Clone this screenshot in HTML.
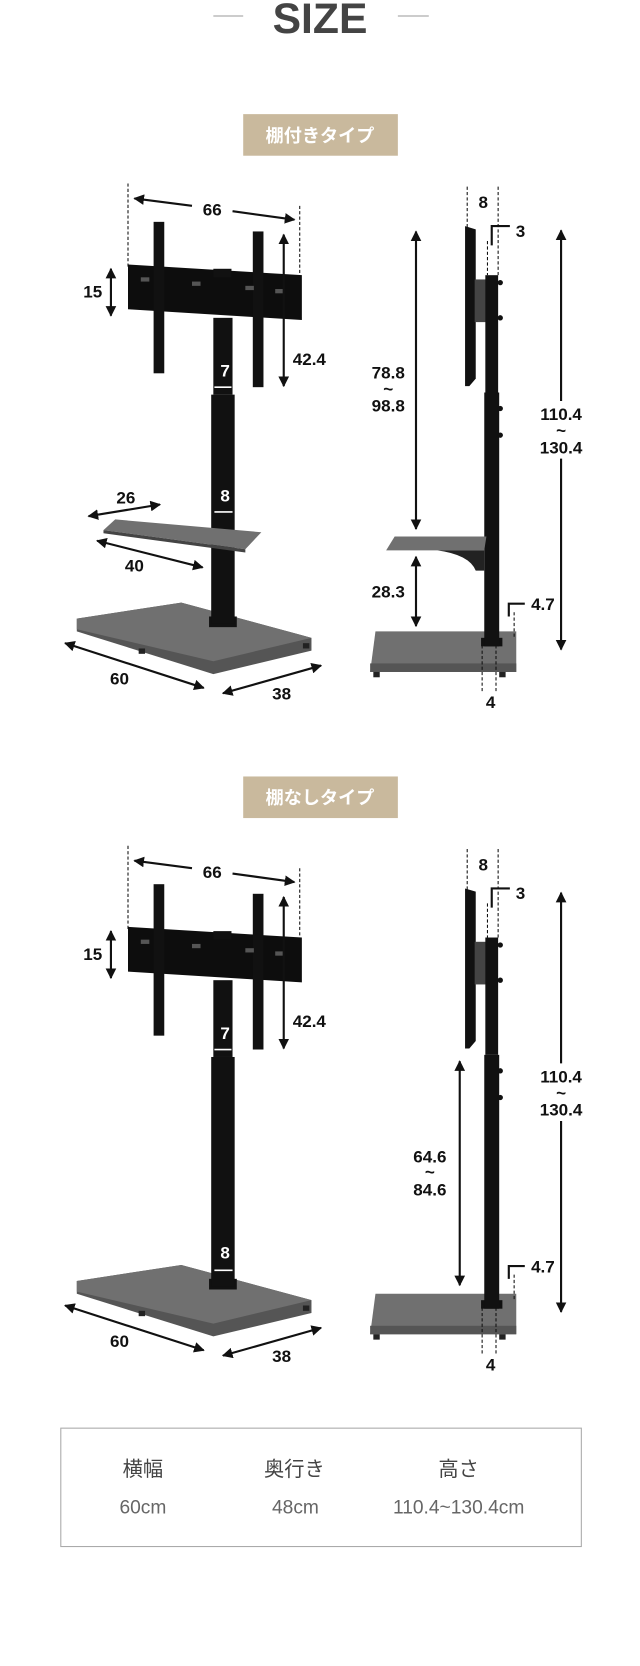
<!DOCTYPE html>
<html><head><meta charset="utf-8"><style>
html,body{margin:0;padding:0;background:#fff;}
svg{display:block;}
text{font-family:"Liberation Sans","Noto Sans CJK JP",sans-serif;}
.d{font-weight:bold;font-size:16px;fill:#111;text-anchor:middle;}
.ln{stroke:#111;stroke-width:2;fill:none;}
.ds{stroke:#111;stroke-width:1;stroke-dasharray:3,2;fill:none;}
</style></head><body>
<svg width="640" height="1666" viewBox="0 0 600 1562" preserveAspectRatio="none" xmlns="http://www.w3.org/2000/svg">
<defs>
<marker id="a" viewBox="0 0 10 10" refX="9" refY="5" markerWidth="5" markerHeight="5" orient="auto-start-reverse"><path d="M0,0 L10,5 L0,10z" fill="#111"/></marker>
<g id="top">
 <line class="ds" x1="120" y1="172" x2="120" y2="250"/>
 <line class="ds" x1="281" y1="193" x2="281" y2="262"/>
 <line class="ln" x1="126" y1="186" x2="180" y2="193" marker-start="url(#a)"/>
 <line class="ln" x1="218" y1="198" x2="276" y2="206" marker-end="url(#a)"/>
 <text class="d" x="199" y="202">66</text>
 <polygon points="120,248 283,258 283,300 120,290" fill="#0d0d0d"/>
 <rect x="144" y="208" width="10" height="142" fill="#111"/>
 <rect x="237" y="217" width="10" height="146" fill="#111"/>
 <rect x="200" y="252" width="17" height="8" fill="#111"/>
 <rect x="132" y="260" width="8" height="4" fill="#555"/><rect x="180" y="264" width="8" height="4" fill="#555"/><rect x="230" y="268" width="8" height="4" fill="#555"/><rect x="258" y="271" width="8" height="4" fill="#555"/>
 <line class="ln" x1="104" y1="252" x2="104" y2="296" marker-start="url(#a)" marker-end="url(#a)"/>
 <text class="d" x="87" y="279">15</text>
 <line class="ln" x1="266" y1="220" x2="266" y2="362" marker-start="url(#a)" marker-end="url(#a)"/>
 <text class="d" x="290" y="342">42.4</text>
 <rect x="200" y="298" width="18" height="72" fill="#111"/>
 <text class="d" x="211" y="353" fill="#fff" style="fill:#fff">7</text>
 <line x1="201" y1="363" x2="217" y2="363" stroke="#fff" stroke-width="1.5"/>
 <line class="ds" x1="438" y1="175" x2="438" y2="215"/>
 <line class="ds" x1="467" y1="175" x2="467" y2="260"/>
 <text class="d" x="453" y="195">8</text>
 <path d="M461,230 V212 H478" class="ln"/>
 <text class="d" x="488" y="222">3</text>
 <line class="ds" x1="457" y1="226" x2="457" y2="258"/>
 <path d="M436,212 L446,215 L446,355 L440,362 L436,362z" fill="#111"/>
 <rect x="445" y="262" width="12" height="40" fill="#444"/>
 <rect x="455" y="258" width="12" height="110" fill="#111"/>
 <circle cx="469" cy="265" r="2.5" fill="#111"/><circle cx="469" cy="298" r="2.5" fill="#111"/>
 <text class="d" x="526" y="394">110.4</text>
</g>
<g id="base">
 <polygon points="72,580 170,565 292,598 292,610 200,632 72,592" fill="#555"/>
 <polygon points="72,580 170,565 292,598 200,620 72,590" fill="#707070"/>
 <rect x="130" y="608" width="6" height="5" fill="#222"/><rect x="284" y="603" width="6" height="5" fill="#222"/>
 <rect x="196" y="578" width="26" height="10" fill="#111"/>
 <line class="ln" x1="61" y1="603" x2="191" y2="645" marker-start="url(#a)" marker-end="url(#a)"/>
 <text class="d" x="112" y="642">60</text>
 <line class="ln" x1="209" y1="650" x2="301" y2="624" marker-start="url(#a)" marker-end="url(#a)"/>
 <text class="d" x="264" y="656">38</text>
 <polygon points="352,592 484,592 484,630 347,630" fill="#707070"/>
 <rect x="347" y="622" width="137" height="8" fill="#555"/>
 <rect x="350" y="630" width="6" height="5" fill="#222"/><rect x="468" y="630" width="6" height="5" fill="#222"/>
 <rect x="451" y="598" width="20" height="8" fill="#111"/>
 <path d="M477,578 V566 H492" class="ln"/>
 <text class="d" x="509" y="572">4.7</text>
 <line class="ds" x1="482" y1="574" x2="482" y2="598"/>
 <line class="ds" x1="452" y1="600" x2="452" y2="650"/>
 <line class="ds" x1="465" y1="600" x2="465" y2="650"/>
 <text class="d" x="460" y="664">4</text>
</g>
</defs>

<line x1="200" y1="15" x2="228" y2="15" stroke="#999" stroke-width="1"/>
<line x1="373" y1="15" x2="402" y2="15" stroke="#999" stroke-width="1"/>
<text x="300" y="31" font-size="40" font-weight="bold" fill="#444" text-anchor="middle">SIZE</text>

<rect x="228" y="107" width="145" height="39" fill="#c9b99d"/>
<text x="300" y="133" font-size="17" font-weight="bold" fill="#fff" text-anchor="middle">棚付きタイプ</text>
<use href="#top"/>
<use href="#base"/>
<rect x="198" y="370" width="22" height="215" fill="#111"/>
<text x="211" y="470" font-weight="bold" font-size="16" fill="#fff" text-anchor="middle">8</text>
<line x1="201" y1="480" x2="218" y2="480" stroke="#fff" stroke-width="1.5"/>
<polygon points="108,487 245,499 230,515 97,497" fill="#707070"/>
<polygon points="97,497 230,515 230,518 97,500" fill="#444"/>
<line class="ln" x1="83" y1="484" x2="150" y2="473" marker-start="url(#a)" marker-end="url(#a)"/>
<text class="d" x="118" y="472">26</text>
<line class="ln" x1="91" y1="507" x2="190" y2="532" marker-start="url(#a)" marker-end="url(#a)"/>
<text class="d" x="126" y="536">40</text>
<rect x="454" y="368" width="14" height="238" fill="#111"/>
<circle cx="469" cy="383" r="2.5" fill="#111"/><circle cx="469" cy="408" r="2.5" fill="#111"/>
<polygon points="370,503 456,503 454,516 362,516" fill="#707070"/>
<path d="M410,516 Q440,520 446,535 L454,535 L454,516z" fill="#222"/>
<line class="ln" x1="390" y1="217" x2="390" y2="496" marker-start="url(#a)" marker-end="url(#a)"/>
<text class="d" x="364" y="355">78.8</text><text class="d" x="364" y="370" font-size="11">~</text><text class="d" x="364" y="386">98.8</text>
<line class="ln" x1="390" y1="522" x2="390" y2="587" marker-start="url(#a)" marker-end="url(#a)"/>
<text class="d" x="364" y="560">28.3</text>
<line class="ln" x1="526" y1="216" x2="526" y2="376" marker-start="url(#a)"/>
<line class="ln" x1="526" y1="430" x2="526" y2="609" marker-end="url(#a)"/>
<text class="d" x="526" y="409" font-size="11">~</text><text class="d" x="526" y="425">130.4</text>

<rect x="228" y="728" width="145" height="39" fill="#c9b99d"/>
<text x="300" y="754" font-size="17" font-weight="bold" fill="#fff" text-anchor="middle">棚なしタイプ</text>
<g transform="translate(0,621)">
<use href="#top"/>
<use href="#base"/>
<rect x="198" y="370" width="22" height="215" fill="#111"/>
<text x="211" y="559" font-weight="bold" font-size="16" fill="#fff" text-anchor="middle">8</text>
<line x1="201" y1="570" x2="218" y2="570" stroke="#fff" stroke-width="1.5"/>
<rect x="454" y="368" width="14" height="238" fill="#111"/>
<circle cx="469" cy="383" r="2.5" fill="#111"/><circle cx="469" cy="408" r="2.5" fill="#111"/>
<line class="ln" x1="431" y1="374" x2="431" y2="584" marker-start="url(#a)" marker-end="url(#a)"/>
<text class="d" x="403" y="469">64.6</text><text class="d" x="403" y="483" font-size="11">~</text><text class="d" x="403" y="500">84.6</text>
<line class="ln" x1="526" y1="216" x2="526" y2="376" marker-start="url(#a)"/>
<line class="ln" x1="526" y1="430" x2="526" y2="609" marker-end="url(#a)"/>
<text class="d" x="526" y="409" font-size="11">~</text><text class="d" x="526" y="425">130.4</text>
</g>

<rect x="57" y="1339" width="488" height="111" fill="none" stroke="#aaa" stroke-width="1"/>
<g font-size="19" fill="#444" text-anchor="middle">
<text x="134" y="1384">横幅</text><text x="276" y="1384">奥行き</text><text x="430" y="1384">高さ</text>
</g>
<g font-size="18" fill="#666" text-anchor="middle">
<text x="134" y="1419">60cm</text><text x="277" y="1419">48cm</text><text x="430" y="1419">110.4~130.4cm</text>
</g>
</svg>
</body></html>
